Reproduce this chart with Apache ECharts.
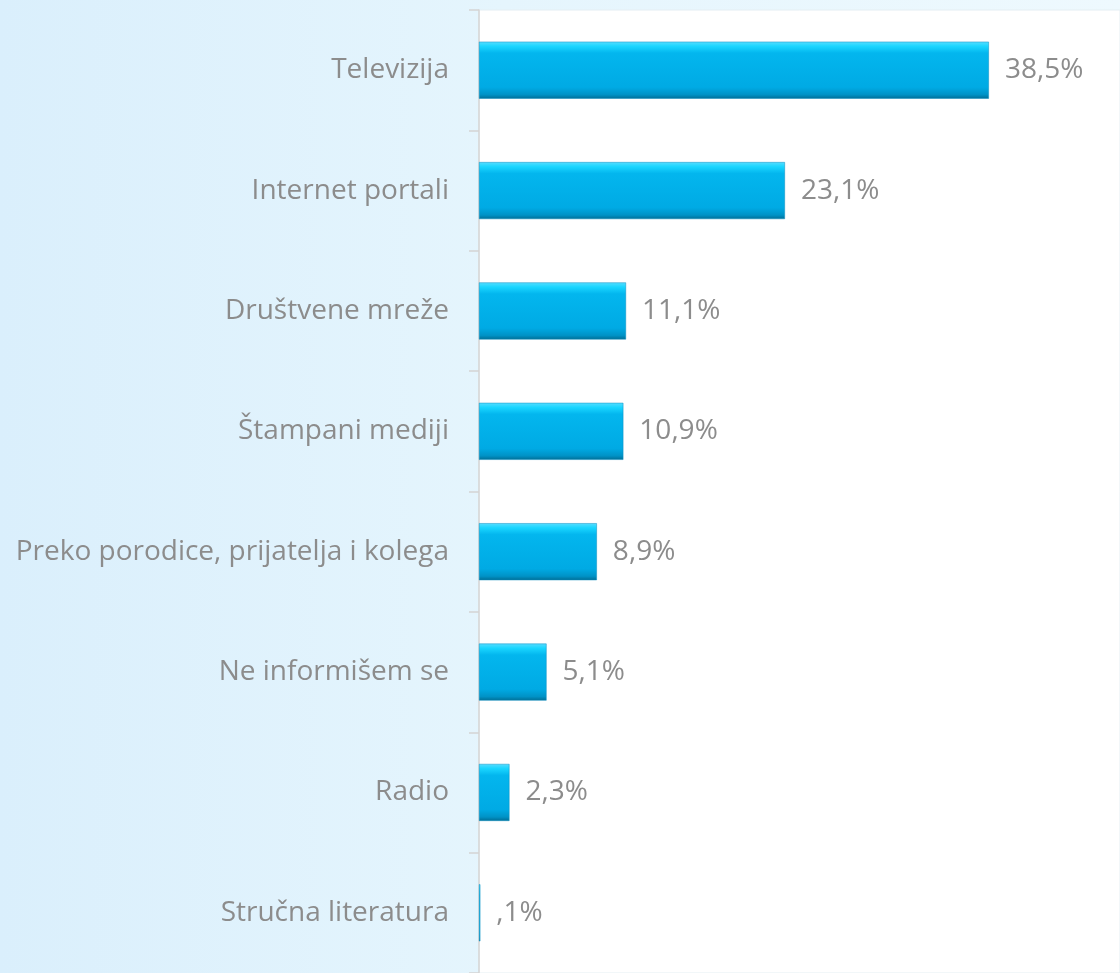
<!DOCTYPE html>
<html>
<head>
<meta charset="utf-8">
<script src="https://cdn.jsdelivr.net/npm/echarts@6/dist/echarts.min.js"></script>
<style>
  html, body { margin: 0; padding: 0; }
  #chart { width: 1120px; height: 973px; }
</style>
</head>
<body>
<div id="chart"></div>
<script>
// izvori informisanja, od najmanjeg do najveceg (yAxis ide odozdo)
const categories = ['Stručna literatura', 'Radio', 'Ne informišem se', 'Preko porodice, prijatelja i kolega',
  'Štampani mediji', 'Društvene mreže', 'Internet portali', 'Televizija'];
const values = [0.1, 2.3, 5.1, 8.9, 10.9, 11.1, 23.1, 38.5];

const textGray = '#8c8c8c';
const fontName = 'Open Sans';

function pct(v) {
  // 38.5 -> "38,5%", 0.1 -> ",1%"
  let s = v.toFixed(1).replace('.', ',');
  if (s.startsWith('0,')) s = s.slice(1);
  return s + '%';
}

let chart = echarts.init(document.getElementById('chart'), null, {width: 1120, height: 973});

let option = {
  backgroundColor: {
    type: 'linear', x: 0, y: 0, x2: 1, y2: 0,
    colorStops: [
      {offset: 0, color: '#daeffc'},
      {offset: 0.45, color: '#e5f5fd'},
      {offset: 1, color: '#eef9fe'}
    ]
  },
  animation: false,
  grid: {
    left: 479, top: 10, right: 0, bottom: 0,
    show: true,
    backgroundColor: '#ffffff',
    borderColor: '#e4eef3',
    borderWidth: 1
  },
  xAxis: {
    type: 'value',
    min: 0,
    max: 48.4,
    show: false
  },
  yAxis: {
    type: 'category',
    data: categories,
    axisLine: {show: true, lineStyle: {color: '#d4d4d4', width: 1.5}},
    axisTick: {show: true, length: 10, lineStyle: {color: '#d4d4d4', width: 1.5}},
    axisLabel: {
      color: textGray,
      fontFamily: fontName,
      fontSize: 28,
      margin: 30
    },
    splitLine: {show: false}
  },
  series: [{
    type: 'bar',
    data: values,
    barWidth: 57,
    itemStyle: {
      color: {
        type: 'linear', x: 0, y: 0, x2: 0, y2: 1,
        colorStops: [
          {offset: 0, color: '#58dcff'},
          {offset: 0.08, color: '#1ad6ff'},
          {offset: 0.2, color: '#03b6ee'},
          {offset: 0.8, color: '#00aae4'},
          {offset: 0.93, color: '#0092c6'},
          {offset: 1, color: '#006d94'}
        ]
      },
      borderColor: '#0a8fc0',
      borderWidth: 0.5
    },
    label: {
      show: true,
      position: 'right',
      distance: 16,
      color: textGray,
      fontFamily: fontName,
      fontSize: 28,
      formatter: function (p) {
        return pct(p.value);
      }
    }
  }]
};

chart.setOption(option);
</script>
</body>
</html>
